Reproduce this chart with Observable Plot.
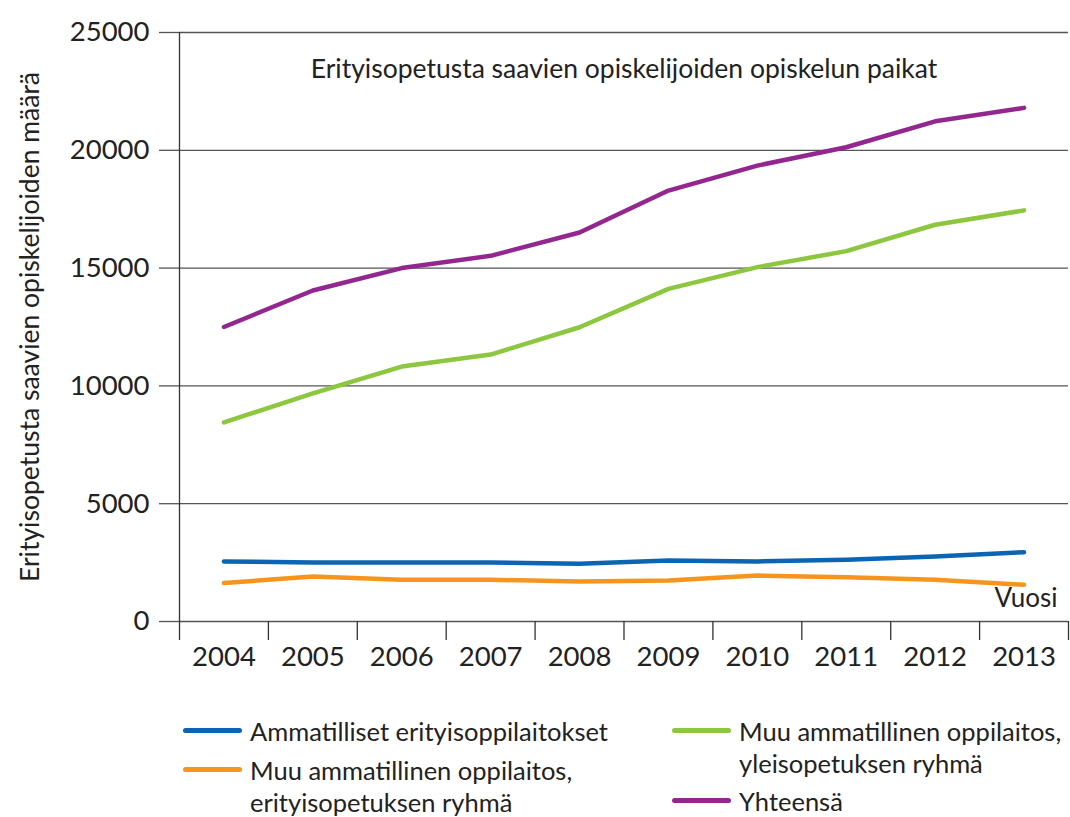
<!DOCTYPE html>
<html>
<head>
<meta charset="utf-8">
<script src="https://cdn.jsdelivr.net/npm/d3@7"></script>
<script src="https://cdn.jsdelivr.net/npm/@observablehq/plot@0.6"></script>
<style>
  body { margin: 0; background: #fff; font-family: Lato, "Open Sans", sans-serif; }
  #wrap { position: relative; width: 1070px; height: 817px; }
  .leg { position: absolute; font-size: 25.5px; color: #222; line-height: 32px; }
  .leg .sw { position: absolute; left: 0; top: 13px; width: 59px; height: 5px; border-radius: 3px; }
  .leg .tx { position: absolute; left: 67px; top: 0; white-space: nowrap; }
</style>
</head>
<body>
<div id="wrap"><div id="chart"></div></div>
<script>
const years = [2004, 2005, 2006, 2007, 2008, 2009, 2010, 2011, 2012, 2013];
const ammatilliset = [2550, 2500, 2500, 2500, 2450, 2590, 2550, 2620, 2760, 2940];
const muuErityis = [1630, 1910, 1770, 1770, 1700, 1740, 1950, 1880, 1770, 1560];
const muuYleis = [8450, 9680, 10820, 11330, 12490, 14120, 15040, 15720, 16840, 17450];
const yhteensa = [12500, 14050, 15000, 15520, 16510, 18290, 19350, 20130, 21230, 21800];
const seriesNames = [
  "Ammatilliset erityisoppilaitokset",
  "Muu ammatillinen oppilaitos, erityisopetuksen ryhmä",
  "Muu ammatillinen oppilaitos, yleisopetuksen ryhmä",
  "Yhteensä"
];
const seriesColors = ["#0b65b3", "#f7941e", "#8dc63f", "#93278f"];
const yTicks = [0, 5000, 10000, 15000, 20000, 25000];
const yTitle = "Erityisopetusta saavien opiskelijoiden määrä";
const chartTitle = "Erityisopetusta saavien opiskelijoiden opiskelun paikat";
const xTitle = "Vuosi";

const seriesValues = [ammatilliset, muuErityis, muuYleis, yhteensa];
const data = [];
seriesNames.forEach((name, i) => {
  years.forEach((yr, j) => data.push({series: name, year: yr, value: seriesValues[i][j]}));
});
const boundaries = years.map(y => y - 0.5).concat([years[years.length - 1] + 0.5]);

const chart = Plot.plot({
  width: 1070,
  height: 700,
  marginLeft: 179,
  marginRight: 2,
  marginTop: 32,
  marginBottom: 79,
  x: {domain: [boundaries[0], boundaries[boundaries.length - 1]]},
  y: {domain: [0, 25000]},
  color: {domain: seriesNames, range: seriesColors},
  style: {fontFamily: "Lato, 'Open Sans', sans-serif", color: "#222", background: "#fff"},
  marks: [
    Plot.gridY(yTicks, {stroke: "#555", strokeOpacity: 1, strokeWidth: 1.3}),
    Plot.axisY(yTicks, {tickSize: 20, tickPadding: 10, tickFormat: d => String(d), label: null, fontSize: 27.5, stroke: "#555", strokeWidth: 1.3}),
    Plot.axisX(boundaries, {tickSize: 19, tickFormat: () => "", label: null, stroke: "#333", strokeWidth: 1.3}),
    Plot.axisX(years, {tickSize: 0, tickPadding: 25, tickFormat: d => String(d), label: null, fontSize: 27.5}),
    Plot.ruleX([boundaries[0]], {stroke: "#333", strokeWidth: 1.3}),
    Plot.line(data, {x: "year", y: "value", z: "series", stroke: "series", strokeWidth: 4.5, strokeLinecap: "round", strokeLinejoin: "round"}),
    Plot.text([chartTitle], {text: d => d, frameAnchor: "top", dy: 27, fontSize: 26.5, fill: "#222"}),
    Plot.text([xTitle], {text: d => d, frameAnchor: "bottom-right", textAnchor: "end", dx: -11, dy: -15, fontSize: 26, fill: "#222"}),
    Plot.text([yTitle], {text: d => d, frameAnchor: "left", textAnchor: "middle", rotate: -90, dx: -149, fontSize: 26.5, fill: "#222"})
  ]
});
document.getElementById("chart").appendChild(chart);

const legendItems = [
  {i: 0, left: 183, top: 715, text: "Ammatilliset erityisoppilaitokset"},
  {i: 1, left: 183, top: 754, text: "Muu ammatillinen oppilaitos,<br>erityisopetuksen ryhmä"},
  {i: 2, left: 672, top: 715, text: "Muu ammatillinen oppilaitos,<br>yleisopetuksen ryhmä"},
  {i: 3, left: 672, top: 785, text: "Yhteensä"}
];
const wrap = document.getElementById("wrap");
legendItems.forEach(it => {
  const d = document.createElement("div");
  d.className = "leg";
  d.style.left = it.left + "px";
  d.style.top = it.top + "px";
  d.innerHTML = `<div class="sw" style="background:${seriesColors[it.i]}"></div><div class="tx">${it.text}</div>`;
  wrap.appendChild(d);
});
</script>
</body>
</html>
